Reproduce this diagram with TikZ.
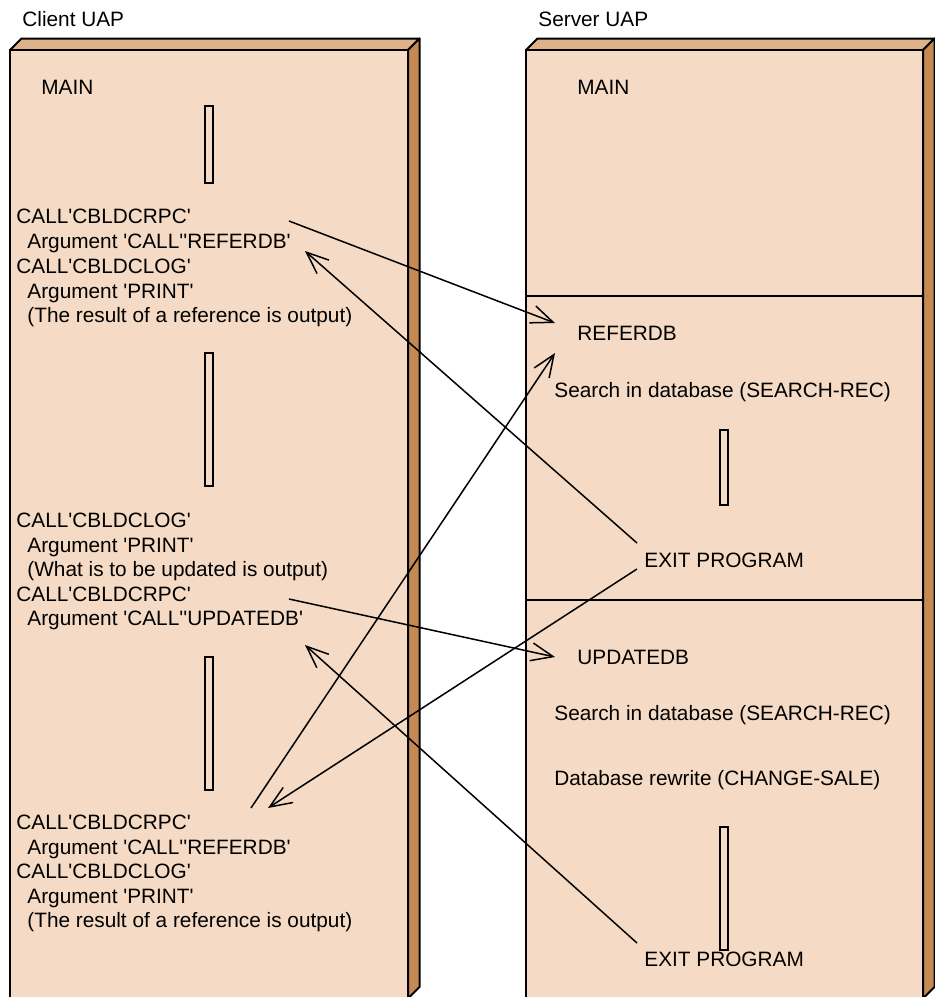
\documentclass[tikz,border=0pt]{standalone}
\usepackage{fontspec}
\setmainfont{Liberation Sans}[Ligatures=TeXOff]
\usetikzlibrary{arrows.meta}
\usepackage{xcolor}

\definecolor{facefront}{RGB}{245,219,197}
\definecolor{facetop}{RGB}{222,178,138}
\definecolor{faceside}{RGB}{197,138,84}

\begin{document}
\begin{tikzpicture}[x=0.5pt, y=-0.5pt,
	txt/.style={anchor=base west, inner sep=0pt, font=\fontsize{10.4}{12}\selectfont},
	bar/.style={draw, line width=0.8pt, fill=facefront},
	msg/.style={-{Straight Barb[length=11pt,width=9pt]}, line width=0.75pt}]
	
	\useasboundingbox (0,0) rectangle (934,997);
	
	%client block
	\filldraw[fill=facetop, line width=1pt, line join=round] (10,50) -- (21.5,38.5) -- (419.5,38.5) -- (408,50) -- cycle;
	\filldraw[fill=faceside, line width=1pt, line join=round] (408,50) -- (419.5,38.5) -- (419.5,987) -- (408,998.5) -- cycle;
	\filldraw[fill=facefront, line width=1pt] (10,50) rectangle (408,1002);
	
	%server block
	\filldraw[fill=facetop, line width=1pt, line join=round] (526,50) -- (537.5,38.5) -- (934.5,38.5) -- (923,50) -- cycle;
	\filldraw[fill=faceside, line width=1pt, line join=round] (923,50) -- (934.5,38.5) -- (934.5,987) -- (923,998.5) -- cycle;
	\filldraw[fill=facefront, line width=1pt] (526,50) rectangle (923,1002);
	\draw[line width=1pt] (526,296) -- (923,296);
	\draw[line width=1pt] (526,600) -- (923,600);
	
	%skipped code
	\draw[bar] (205,106) rectangle (213,183);
	\draw[bar] (205,353) rectangle (213,486);
	\draw[bar] (205,657) rectangle (213,790);
	\draw[bar] (720,430) rectangle (728,505);
	\draw[bar] (720,827) rectangle (728,950);
	
	%titles
	\node[txt] (client) at (22,26) {Client UAP};
	\node[txt] (server) at (538,26) {Server UAP};
	
	%client UAP
	\node[txt] (cmain) at (41,94) {MAIN};
	
	\node[txt] (rpcA) at (16,223) {CALL'CBLDCRPC'};
	\node[txt] (argA) at (27,248) {Argument 'CALL''REFERDB'};
	\node[txt] (logA) at (16,273) {CALL'CBLDCLOG'};
	\node[txt] (prtA) at (27,298) {Argument 'PRINT'};
	\node[txt] (outA) at (27,322) {(The result of a reference is output)};
	
	\node[txt] (logB) at (16,527) {CALL'CBLDCLOG'};
	\node[txt] (prtB) at (27,552) {Argument 'PRINT'};
	\node[txt] (outB) at (27,576) {(What is to be updated is output)};
	\node[txt] (rpcB) at (16,601) {CALL'CBLDCRPC'};
	\node[txt] (argB) at (27,625) {Argument 'CALL''UPDATEDB'};
	
	\node[txt] (rpcC) at (16,829) {CALL'CBLDCRPC'};
	\node[txt] (argC) at (27,854) {Argument 'CALL''REFERDB'};
	\node[txt] (logC) at (16,878) {CALL'CBLDCLOG'};
	\node[txt] (prtC) at (27,903) {Argument 'PRINT'};
	\node[txt] (outC) at (27,927) {(The result of a reference is output)};
	
	%server UAP
	\node[txt] (smain) at (577,94) {MAIN};
	
	\node[txt] (referdb) at (577,340) {REFERDB};
	\node[txt] (searchA) at (554,397) {Search in database (SEARCH-REC)};
	\node[txt] (exitA) at (644,567) {EXIT PROGRAM};
	
	\node[txt] (updatedb) at (577,664) {UPDATEDB};
	\node[txt] (searchB) at (554,720) {Search in database (SEARCH-REC)};
	\node[txt] (rewrite) at (554,785) {Database rewrite (CHANGE-SALE)};
	\node[txt] (exitB) at (644,966) {EXIT PROGRAM};
	
	%arrow ends
	\coordinate (rpcAout) at (289,221);
	\coordinate (argAin) at (305,251);
	\coordinate (rpcBout) at (289,599);
	\coordinate (argBin) at (305,645);
	\coordinate (rpcCout) at (251,808);
	\coordinate (rpcCin) at (268,808);
	
	\coordinate (referIn) at (555,323);
	\coordinate (referInC) at (555,353);
	\coordinate (updateIn) at (555,657);
	\coordinate (exitAout) at (637,543);
	\coordinate (exitAoutC) at (637,569);
	\coordinate (exitBout) at (637,943);
	
	%calls and returns
	\draw[msg] (rpcAout) -- (referIn);
	\draw[msg] (exitAout) -- (argAin);
	\draw[msg] (rpcBout) -- (updateIn);
	\draw[msg] (exitBout) -- (argBin);
	\draw[msg] (rpcCout) -- (referInC);
	\draw[msg] (exitAoutC) -- (rpcCin);
	
\end{tikzpicture}
\end{document}
